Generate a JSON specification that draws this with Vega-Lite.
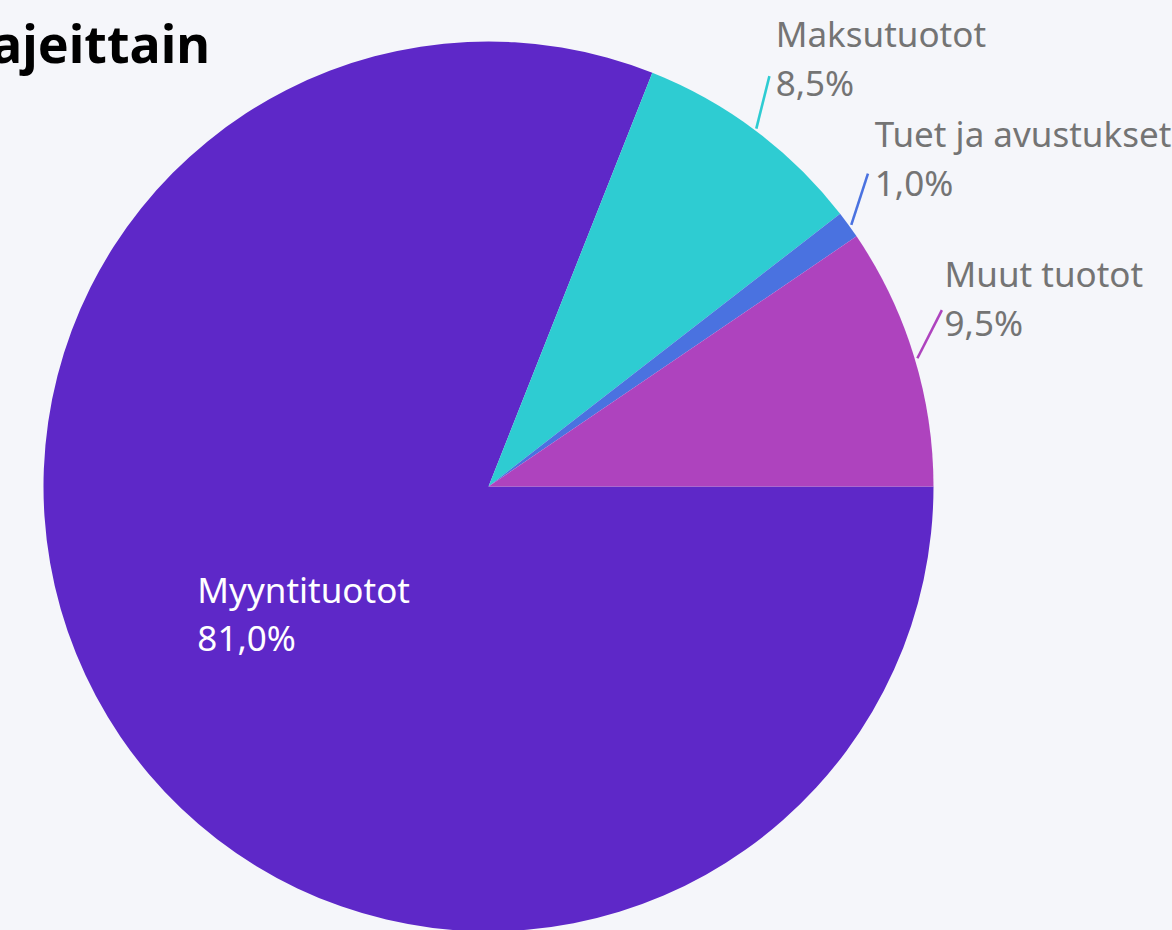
{
  "$schema": "https://vega.github.io/schema/vega-lite/v6.json",
  "width": 977,
  "height": 973,
  "autosize": "none",
  "padding": {"left": 0, "top": 0, "right": 195, "bottom": 0},
  "background": "#F5F6FA",
  "config": {"view": {"stroke": null}},
  "title": {
    "text": "Tuotot tuotonlajeittain",
    "anchor": "start",
    "frame": "group",
    "align": "right",
    "dx": 210,
    "offset": -115,
    "baseline": "alphabetic",
    "font": "Noto Sans",
    "fontSize": 52,
    "fontWeight": "bold",
    "color": "#000000"
  },
  "data": {
    "values": [
      {"cat": "Myyntituotot", "v": 81.0, "idx": 1, "label": "Myyntituotot\n81,0%"},
      {"cat": "Maksutuotot", "v": 8.5, "idx": 2, "label": "Maksutuotot\n8,5%"},
      {"cat": "Tuet ja avustukset", "v": 1.0, "idx": 3, "label": "Tuet ja avustukset\n1,0%"},
      {"cat": "Muut tuotot", "v": 9.5, "idx": 4, "label": "Muut tuotot\n9,5%"}
    ]
  },
  "encoding": {
    "theta": {"field": "v", "type": "quantitative", "stack": true, "scale": {"range": [1.5707963267948966, 7.853981633974483]}},
    "order": {"field": "idx", "type": "quantitative"},
    "detail": {"field": "cat", "type": "nominal"}
  },
  "layer": [
    {
      "mark": {"type": "arc", "radius": 445},
      "encoding": {
        "color": {"field": "cat", "type": "nominal", "legend": null,
          "scale": {"domain": ["Myyntituotot", "Maksutuotot", "Tuet ja avustukset", "Muut tuotot"],
                    "range": ["#5E28C8", "#2ECCD2", "#4A72E0", "#AE43BE"]}}
      }
    },
    {
      "mark": {"type": "text", "radius": 458, "text": "|", "font": "DejaVu Sans", "fontWeight": 200, "fontSize": 54, "align": "center", "baseline": "middle", "dx": -5, "dy": -19},
      "encoding": {
        "color": {"field": "cat", "type": "nominal", "legend": null},
        "angle": {"field": "cat", "type": "nominal", "legend": null,
          "scale": {"type": "ordinal", "domain": ["Myyntituotot", "Maksutuotot", "Tuet ja avustukset", "Muut tuotot"], "range": [0, 14, 18, 27]}},
        "opacity": {"condition": {"test": "datum.cat === 'Myyntituotot'", "value": 0}, "value": 1}
      }
    },
    {
      "mark": {"type": "text", "radius": 475, "align": "left", "baseline": "alphabetic", "dx": 2, "dy": -60, "font": "Noto Sans", "fontSize": 35, "fill": "#747474", "lineBreak": "\n", "lineHeight": 49},
      "encoding": {
        "text": {"field": "label", "type": "nominal"},
        "opacity": {"condition": {"test": "datum.cat === 'Myyntituotot'", "value": 0}, "value": 1}
      }
    },
    {
      "mark": {"type": "text", "radius": 352, "align": "left", "baseline": "alphabetic", "dx": 0, "dy": -81, "font": "Noto Sans", "fontSize": 35, "fill": "#FFFFFF", "lineBreak": "\n", "lineHeight": 48},
      "encoding": {
        "text": {"field": "label", "type": "nominal"},
        "opacity": {"condition": {"test": "datum.cat === 'Myyntituotot'", "value": 1}, "value": 0}
      }
    }
  ]
}
